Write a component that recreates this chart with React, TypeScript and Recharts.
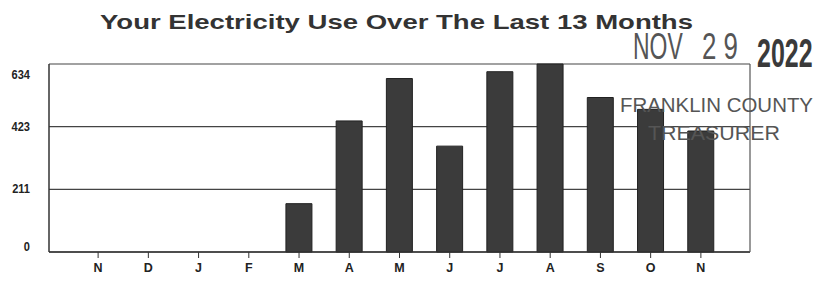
import React from 'react';
import { BarChart, Bar, XAxis, YAxis, CartesianGrid } from 'recharts';

const months = ['N', 'D', 'J', 'F', 'M', 'A', 'M', 'J', 'J', 'A', 'S', 'O', 'N'];
const usage = [0, 0, 0, 0, 163, 442, 585, 357, 608, 634, 521, 481, 408];
const yTicks = [0, 211, 423, 634];

const data = months.map((m, i) => ({ key: `${m}-${i}`, month: m, kwh: usage[i] }));

const sans = '"Liberation Sans", Arial, sans-serif';

// keep the top and bottom labels nudged inside the frame, like the printed bill
const YTick = (props: any) => {
  const { x, y, payload } = props;
  let dy = 4;
  if (payload.value === 634) dy = 15;
  if (payload.value === 0) dy = -1;
  return (
    <text
      x={x}
      y={y + dy}
      textAnchor="end"
      fontFamily={sans}
      fontWeight="bold"
      fontSize={13}
      fill="#222"
      transform={`translate(${x * 0.15} 0) scale(0.85 1)`}
    >
      {payload.value}
    </text>
  );
};

const XTick = (props: any) => {
  const { x, y, payload } = props;
  return (
    <text x={x} y={y + 10} textAnchor="middle" fontFamily={sans} fontWeight="bold" fontSize={12.5} fill="#222">
      {months[payload.index] ?? payload.value}
    </text>
  );
};

export default function App() {
  return (
    <div style={{ position: 'absolute', left: 0, top: 0, width: 825, height: 286, background: '#fff' }}>
      <BarChart
        width={825}
        height={286}
        data={data}
        margin={{ top: 64, right: 74, bottom: 4, left: 9 }}
        barSize={26}
      >
        <CartesianGrid vertical={false} stroke="#444" strokeWidth={1.2} />
        <XAxis
          dataKey="key"
          height={30}
          padding={{ left: 24, right: 24 }}
          tick={<XTick />}
          tickSize={6}
          tickMargin={4}
          tickLine={{ stroke: '#333' }}
          axisLine={{ stroke: '#333', strokeWidth: 1.5 }}
          interval={0}
        />
        <YAxis
          width={40}
          domain={[0, 634]}
          ticks={yTicks}
          tick={<YTick />}
          tickSize={0}
          tickMargin={19}
          tickLine={false}
          axisLine={{ stroke: '#333', strokeWidth: 1.5 }}
        />
        <YAxis
          yAxisId="frame"
          orientation="right"
          width={1}
          domain={[0, 634]}
          tick={false}
          tickLine={false}
          axisLine={{ stroke: '#555', strokeWidth: 1.2 }}
        />
        <Bar dataKey="kwh" fill="#3b3b3b" stroke="#222" strokeWidth={1} isAnimationActive={false} />
      </BarChart>

      <svg
        width={825}
        height={286}
        style={{ position: 'absolute', left: 0, top: 0, pointerEvents: 'none' }}
      >
        <text x={100} y={29} fontFamily={sans} fontWeight="bold" fontSize={21} fill="#333"
          textLength={593} lengthAdjust="spacingAndGlyphs">
          Your Electricity Use Over The Last 13 Months
        </text>
        {/* received stamp, condensed by scaling */}
        <text transform="translate(633 59) scale(0.62 1)" fontFamily={sans} fontSize={37} fill="#555">
          NOV
        </text>
        <text transform="translate(702 59) scale(0.7 1)" fontFamily={sans} fontSize={37} fill="#555">
          2 9
        </text>
        <text transform="translate(757 67) scale(0.61 1)" fontFamily={sans} fontWeight="bold" fontSize={41} fill="#3a3a3a">
          2022
        </text>
        <text x={620} y={112} fontFamily={sans} fontSize={21} fill="#555"
          textLength={193} lengthAdjust="spacingAndGlyphs">
          FRANKLIN COUNTY
        </text>
        <text x={648} y={140} fontFamily={sans} fontSize={21} fill="#555"
          textLength={132} lengthAdjust="spacingAndGlyphs">
          TREASURER
        </text>
      </svg>
    </div>
  );
}
